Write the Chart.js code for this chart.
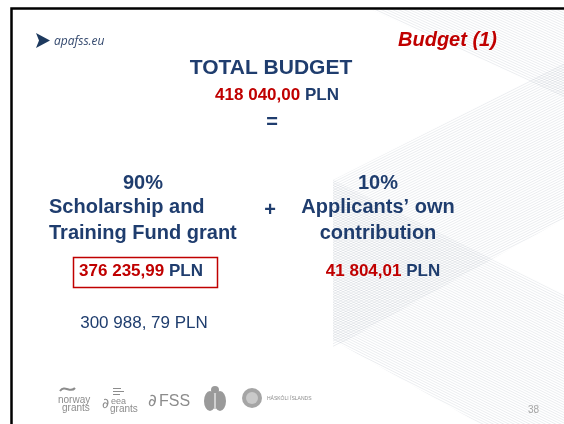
<!DOCTYPE html>
<html>
<head>
<meta charset="utf-8">
<script src="https://cdn.jsdelivr.net/npm/chart.js@4"></script>
<style>
  html, body { margin: 0; padding: 0; background: #fff; }
  #wrap { width: 564px; height: 424px; }
</style>
</head>
<body>
<div id="wrap"><canvas id="myChart" width="564" height="424"></canvas></div>
<script>
// dane slajdu
const slideTitle = "Budget (1)";
const totalTitle = "TOTAL BUDGET";
const totalAmount = "418 040,00";
const currency = "PLN";
const sharePct = [90, 10];
const shareLabels = [["Scholarship and", "Training Fund grant"], ["Applicants’ own", "contribution"]];
const shareAmounts = ["376 235,99", "41 804,01"];
const grantNote = "300 988, 79 PLN";
const pageNo = "38";

const NAVY = "#1f3d6e";
const RED = "#c00000";
const FONT = "'Liberation Sans', Arial, sans-serif";

// tekst w kilku kolorach, wysrodkowany
function drawParts(ctx, parts, cx, y, font) {
    ctx.font = font;
    let w = 0;
    parts.forEach(p => { w += ctx.measureText(p[0]).width; });
    let x = cx - w / 2;
    ctx.textAlign = "left";
    parts.forEach(p => {
        ctx.fillStyle = p[1];
        ctx.fillText(p[0], x, y);
        x += ctx.measureText(p[0]).width;
    });
}

// kreskowanie w tle
function hatch(ctx, poly, slope) {
    ctx.save();
    ctx.beginPath();
    poly.forEach((p, i) => i ? ctx.lineTo(p[0], p[1]) : ctx.moveTo(p[0], p[1]));
    ctx.closePath();
    ctx.clip();
    ctx.strokeStyle = "rgba(135,145,165,0.24)";
    ctx.lineWidth = 0.7;
    for (let c = -600; c < 900; c += 2.6) {
        ctx.beginPath();
        ctx.moveTo(250, c + slope * 250);
        ctx.lineTo(600, c + slope * 600);
        ctx.stroke();
    }
    ctx.restore();
}

const slidePlugin = {
    id: "slide",
    beforeDraw(chart) {
        const ctx = chart.ctx;
        ctx.save();
        ctx.fillStyle = "#fff";
        ctx.fillRect(0, 0, 564, 424);
        hatch(ctx, [[368, 8], [564, 8], [564, 97]], 0.46);
        hatch(ctx, [[333, 180], [564, 63], [564, 219], [333, 348]], -0.5);
        hatch(ctx, [[333, 180], [564, 295], [564, 424], [480, 424], [333, 340]], 0.5);
        // ramka
        ctx.strokeStyle = "#000";
        ctx.lineWidth = 2.5;
        ctx.beginPath();
        ctx.moveTo(11.5, 424);
        ctx.lineTo(11.5, 8.5);
        ctx.lineTo(564, 8.5);
        ctx.stroke();
        ctx.restore();
    },
    afterDraw(chart) {
        const ctx = chart.ctx;
        ctx.save();
        ctx.textBaseline = "alphabetic";

        // logo
        ctx.fillStyle = "#1e3a5f";
        ctx.beginPath();
        ctx.moveTo(36, 33); ctx.lineTo(50, 40.5); ctx.lineTo(36, 48); ctx.lineTo(39, 40.5);
        ctx.closePath();
        ctx.fill();
        ctx.fillStyle = "#34496e";
        ctx.font = "italic 12px 'Open Sans', " + FONT;
        ctx.textAlign = "left";
        ctx.fillText("apafss.eu", 54, 45);

        ctx.fillStyle = RED;
        ctx.font = "italic bold 20px " + FONT;
        ctx.fillText(slideTitle, 398, 46);

        drawParts(ctx, [[totalTitle, NAVY]], 271, 74, "bold 21px " + FONT);
        drawParts(ctx, [[totalAmount, RED], [" " + currency, NAVY]], 277, 100, "bold 17px " + FONT);
        drawParts(ctx, [["=", NAVY]], 272, 128, "bold 20px " + FONT);

        const cols = [143, 378];
        cols.forEach((cx, i) => {
            drawParts(ctx, [[sharePct[i] + "%", NAVY]], cx, 189, "bold 20px " + FONT);
        });
        ctx.fillStyle = NAVY;
        ctx.font = "bold 20px " + FONT;
        ctx.textAlign = "left";
        ctx.fillText(shareLabels[0][0], 49, 213);
        ctx.fillText(shareLabels[0][1], 49, 239);
        drawParts(ctx, [[shareLabels[1][0], NAVY]], cols[1], 213, "bold 20px " + FONT);
        drawParts(ctx, [[shareLabels[1][1], NAVY]], cols[1], 239, "bold 20px " + FONT);
        drawParts(ctx, [["+", NAVY]], 270, 216, "bold 20px " + FONT);

        ctx.strokeStyle = RED;
        ctx.lineWidth = 1.5;
        ctx.strokeRect(73.5, 257.5, 144, 30);
        drawParts(ctx, [[shareAmounts[0], RED], [" " + currency, NAVY]], 141, 276, "bold 17px " + FONT);
        drawParts(ctx, [[shareAmounts[1], RED], [" " + currency, NAVY]], 383, 276, "bold 17px " + FONT);

        drawParts(ctx, [[grantNote, NAVY]], 144, 328, "17px " + FONT);

        // logotypy
        const G = "#8c8c8c";
        ctx.strokeStyle = G;
        ctx.lineWidth = 2;
        ctx.beginPath();
        ctx.moveTo(60, 391);
        ctx.bezierCurveTo(65, 384, 70, 394, 75, 388);
        ctx.stroke();
        ctx.fillStyle = G;
        ctx.textAlign = "left";
        ctx.font = "10px " + FONT;
        ctx.fillText("norway", 58, 403);
        ctx.fillText("grants", 62, 411);
        ctx.font = "14px 'DejaVu Sans'";
        ctx.fillText("∂", 102, 408);
        ctx.font = "9px " + FONT;
        ctx.fillText("eea", 111, 404);
        ctx.font = "10px " + FONT;
        ctx.fillText("grants", 110, 412);
        ctx.fillRect(113, 388, 8, 1);
        ctx.fillRect(113, 391, 11, 1);
        ctx.fillRect(113, 394, 7, 1);
        ctx.font = "17px 'DejaVu Sans'";
        ctx.fillText("∂", 148, 406);
        ctx.font = "16px " + FONT;
        ctx.fillText("FSS", 159, 406);
        // herb
        ctx.fillStyle = "#9a9a9a";
        ctx.beginPath();
        ctx.ellipse(210, 401, 6, 10, 0, 0, Math.PI * 2);
        ctx.ellipse(220, 401, 6, 10, 0, 0, Math.PI * 2);
        ctx.fill();
        ctx.beginPath();
        ctx.ellipse(215, 390, 4, 4, 0, 0, Math.PI * 2);
        ctx.fill();
        ctx.fillStyle = "#d0d0d0";
        ctx.fillRect(214, 393, 2, 16);
        // pieczec
        ctx.beginPath();
        ctx.arc(252, 398, 10, 0, Math.PI * 2);
        ctx.fillStyle = "#a5a5a5";
        ctx.fill();
        ctx.beginPath();
        ctx.arc(252, 398, 6, 0, Math.PI * 2);
        ctx.fillStyle = "#c9c9c9";
        ctx.fill();
        ctx.fillStyle = G;
        ctx.font = "5px " + FONT;
        ctx.fillText("HÁSKÓLI ÍSLANDS", 267, 400);

        ctx.fillStyle = "#a6a6a6";
        ctx.font = "10px " + FONT;
        ctx.fillText(pageNo, 528, 413);
        ctx.restore();
    }
};

const config = {
    type: "bar",
    data: {
        labels: shareLabels.map(l => l.join(" ")),
        datasets: [],
    },
    options: {
        responsive: false,
        animation: false,
        plugins: {
            legend: { display: false },
            tooltip: { enabled: false },
        },
        scales: {
            x: { display: false },
            y: { display: false },
        },
    },
    plugins: [slidePlugin],
};

const ctx = document.getElementById("myChart").getContext("2d");
const slide = new Chart(ctx, config);
</script>
</body>
</html>
